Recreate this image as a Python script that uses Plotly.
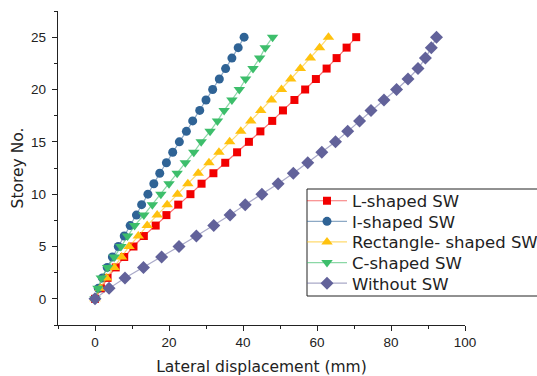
import plotly.graph_objects as go

# Storey numbers (0 = base, 25 = roof)
storeys = list(range(26))

# Lateral displacement (mm) per storey for each shear wall configuration
l_shaped = [0, 1.6, 3.4, 5.6, 7.9, 10.4, 13.2, 16.4, 19.3, 22.5, 25.8, 28.8, 32.0,
            35.2, 38.4, 41.6, 44.7, 47.9, 50.8, 53.9, 56.8, 59.7, 62.6, 65.3, 68.0, 70.6]
i_shaped = [0, 0.9, 2.0, 3.3, 4.7, 6.3, 7.9, 9.5, 11.2, 12.6, 14.3, 15.9, 17.5,
            19.3, 21.0, 22.8, 24.7, 26.4, 28.3, 30.0, 31.8, 33.6, 35.3, 37.0, 38.7, 40.3]
rect_shaped = [0, 1.4, 3.1, 5.2, 7.2, 9.2, 11.7, 14.1, 16.8, 19.5, 22.3, 25.1, 27.9,
               30.8, 33.5, 36.4, 39.4, 42.1, 44.8, 47.7, 50.4, 52.9, 55.5, 58.2, 60.7, 63.1]
c_shaped = [0, 0.8, 1.7, 3.4, 5.2, 7.0, 8.8, 10.7, 13.2, 15.5, 17.8, 20.0, 22.2,
            24.4, 26.7, 28.7, 31.1, 33.1, 34.9, 37.0, 39.0, 40.7, 42.7, 44.5, 46.0, 48.0]
without_sw = [0, 3.8, 8.1, 13.1, 18.0, 22.7, 27.4, 32.1, 36.5, 40.6, 45.1, 49.5, 53.6,
              57.5, 61.3, 65.0, 68.3, 71.5, 74.6, 78.1, 81.5, 84.6, 87.3, 89.3, 90.9, 92.3]

x_ticks = [0, 20, 40, 60, 80, 100]
y_ticks = [0, 5, 10, 15, 20, 25]

series = [
    ("L-shaped SW", l_shaped, "#F20000", "rgba(242,0,0,0.55)", "square", 8),
    ("I-shaped SW", i_shaped, "#2F6395", "rgba(47,99,149,0.55)", "circle", 9),
    ("Rectangle- shaped SW", rect_shaped, "#FFC20E", "rgba(255,194,14,0.6)", "triangle-up", 10),
    ("C-shaped SW", c_shaped, "#3DBE6B", "rgba(61,190,107,0.6)", "triangle-down", 10),
    ("Without SW", without_sw, "#62629A", "rgba(98,98,154,0.55)", "diamond", 10),
]

# Plot area in pixels: x 58..465, y 11..325
PLOT_L, PLOT_R, PLOT_T, PLOT_B = 58, 465, 11, 325
W, H = 537, 376


def px_to_paper_x(px):
    return (px - PLOT_L) / (PLOT_R - PLOT_L)


def px_to_paper_y(py):
    return (PLOT_B - py) / (PLOT_B - PLOT_T)


legend_font = dict(family="DejaVu Sans, sans-serif", size=16.5, color="#222")
axis_font = dict(family="Liberation Sans, Arial, sans-serif", size=13.5, color="#222")
title_font = dict(family="DejaVu Sans, sans-serif", size=15.5, color="#222")

# Each series gets its own legend row so the rows can be packed tightly
legend_box_left = 302
row_top = 201
row_step = 20.6

fig = go.Figure()
layout_legends = {}
for k, (name, xs, mcol, lcol, sym, size) in enumerate(series):
    key = "legend" if k == 0 else f"legend{k + 1}"
    fig.add_trace(go.Scatter(
        x=xs, y=storeys, name=name, mode="lines+markers",
        line=dict(color=lcol, width=1.2),
        marker=dict(symbol=sym, size=size, color=mcol, line=dict(width=0)),
        legend=key,
    ))
    layout_legends[key] = dict(
        x=px_to_paper_x(legend_box_left),
        y=px_to_paper_y(row_top + k * row_step),
        xanchor="left", yanchor="middle",
        borderwidth=0, bgcolor="rgba(0,0,0,0)",
        font=legend_font, itemwidth=40,
    )

fig.update_layout(
    width=W, height=H,
    margin=dict(l=PLOT_L, r=W - PLOT_R, t=PLOT_T, b=H - PLOT_B, autoexpand=False),
    paper_bgcolor="white", plot_bgcolor="white",
    showlegend=True,
    **layout_legends,
    shapes=[dict(
        type="rect", xref="paper", yref="paper", layer="below",
        x0=px_to_paper_x(307), x1=px_to_paper_x(545),
        y0=px_to_paper_y(296), y1=px_to_paper_y(189),
        line=dict(color="#222", width=1), fillcolor="white",
    )],
    xaxis=dict(
        range=[-10, 100], tickvals=x_ticks, showgrid=False, zeroline=False,
        showline=True, linecolor="#222", linewidth=1.3,
        ticks="outside", ticklen=5, tickwidth=1.2, tickcolor="#222",
        minor=dict(dtick=10, tick0=0, ticks="outside", ticklen=3, tickwidth=1, tickcolor="#222"),
        tickfont=axis_font,
        title=dict(text="Lateral displacement (mm)", font=title_font, standoff=14),
    ),
    yaxis=dict(
        range=[-2.5, 27.5], tickvals=y_ticks, showgrid=False, zeroline=False,
        showline=True, linecolor="#222", linewidth=1.3,
        ticks="outside", ticklen=5, tickwidth=1.2, tickcolor="#222",
        minor=dict(dtick=2.5, tick0=0, ticks="outside", ticklen=3, tickwidth=1, tickcolor="#222"),
        tickfont=axis_font, ticklabelstandoff=3,
        title=dict(text="Storey No.", font=title_font, standoff=3),
    ),
)

fig.write_html("out.html")
